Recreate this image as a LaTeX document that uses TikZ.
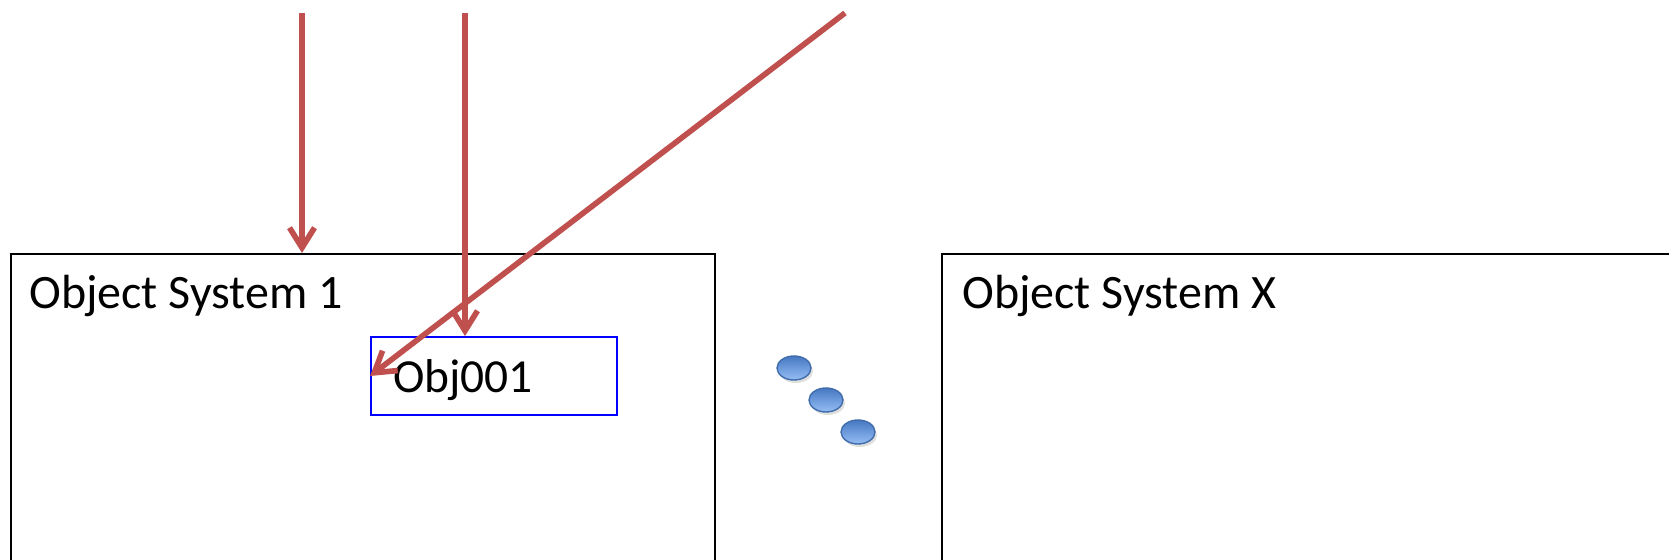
\documentclass[tikz,border=0pt]{standalone}
\usepackage{fontspec}
\setmainfont{Carlito}
\usepackage{tikz}
\usetikzlibrary{arrows.meta, shapes.geometric, shadows, positioning}

\definecolor{arrowred}{RGB}{192,80,77}
\definecolor{dotedge}{RGB}{64,108,170}
\definecolor{dottop}{RGB}{70,120,195}
\definecolor{dotbottom}{RGB}{150,190,245}

\begin{document}
\begin{tikzpicture}[
    x=0.02cm, y=-0.02cm,
    sysbox/.style={draw, line width=1.1pt, anchor=north west, inner sep=0pt},
    syslabel/.style={anchor=base west, inner sep=0pt, font=\fontsize{27.3}{32}\selectfont},
    objbox/.style={draw=blue, line width=1.1pt, minimum width=4.92cm, minimum height=1.56cm,
                   inner xsep=0.44cm, text width=4.04cm, align=left,
                   text height=0.7cm, text depth=0.02cm,
                   font=\fontsize{27}{32}\selectfont},
    flow/.style={draw=arrowred, line width=3.2pt,
                 -{Straight Barb[length=0.4cm, width=0.5cm, line width=3.2pt]}},
    dot/.style={ellipse, draw=dotedge, line width=0.8pt, minimum width=0.68cm,
                minimum height=0.48cm, top color=dottop, bottom color=dotbottom,
                drop shadow={opacity=0.25, shadow xshift=0.04cm, shadow yshift=-0.06cm}}
  ]
  \useasboundingbox (0,0) rectangle (1669,560);

  % Systems
  \node[sysbox, minimum width=14.08cm, minimum height=7cm] (sys1) at (10,253) {};
  \node[sysbox, minimum width=16cm, minimum height=7cm] (sysx) at (941,253) {};
  \node[syslabel] (lbl1) at ([shift={(19,56)}]sys1.north west) {Object System 1};
  \node[syslabel] (lblx) at ([shift={(21,56)}]sysx.north west) {Object System X};

  % Object
  \node[objbox] (obj) at (494,376) {Obj001};

  % Dots
  \node[dot] (d1) at (794,368) {};
  \node[dot] (d2) at (826,400) {};
  \node[dot] (d3) at (858,432) {};

  % Incoming references
  \coordinate (src1) at (302,13);
  \coordinate (src2) at (465,13);
  \coordinate (src3) at (845,13);
  \draw[flow] (src1) -- (src1 |- sys1.north);
  \draw[flow] (src2) -- (src2 |- obj.north);
  \draw[flow] (src3) -- (obj.west);
\end{tikzpicture}
\end{document}
